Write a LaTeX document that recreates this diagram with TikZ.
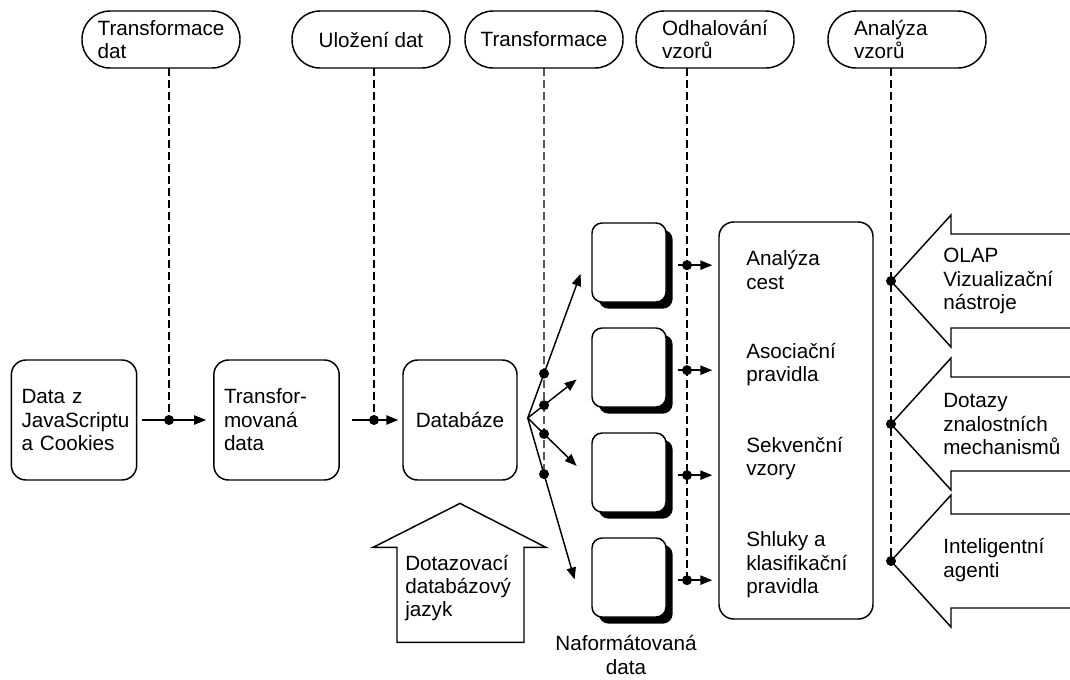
\documentclass[tikz,border=0pt]{standalone}
\usepackage{fontspec}
\setmainfont{Liberation Sans}
\usetikzlibrary{shapes,arrows.meta,positioning,calc,shadows}

\begin{document}
\begin{tikzpicture}[
    x=0.75pt, y=-0.75pt,
    font=\fontsize{15.5}{17.6}\selectfont,
    phase/.style={rectangle, draw, line width=1.1pt, rounded corners=21pt, minimum width=118.5pt, minimum height=42.75pt, align=left},
    proc/.style={rectangle, draw, line width=1.1pt, rounded corners=11pt, minimum width=94pt, minimum height=90pt, text width=78.75pt, align=left},
    fmt/.style={rectangle, draw, line width=1.1pt, rounded corners=7.5pt, minimum width=55.5pt, minimum height=59.25pt, fill=white, drop shadow={shadow xshift=5pt, shadow yshift=-5pt, fill=black, opacity=1}},
    lbl/.style={anchor=west, align=left, inner sep=0pt},
    arrow/.style={-{Triangle[length=9pt,width=7pt]}, line width=1.1pt},
    guide/.style={line width=0.9pt, dash pattern=on 6pt off 3pt},
    hollow/.style={line width=1.1pt}
]
    \useasboundingbox (0,0) rectangle (1070,679);

    % phases on top
    \node[phase] (p1) at (161,39.5) {Transformace\\dat};
    \node[phase] (p2) at (371,39.5) {Uložení dat};
    \node[phase] (p3) at (544,39.5) {Transformace};
    \node[phase] (p4) at (715,39.5) {Odhalování\\vzorů};
    \node[phase, text width=79.5pt] (p5) at (907,39.5) {Analýza\\vzorů};
    \coordinate (v1) at (169,68);
    \coordinate (v2) at (374,68);
    \coordinate (v3) at (544,68);
    \coordinate (v3b) at (544,600);
    \coordinate (v4) at (687,68);
    \coordinate (v5) at (891,68);

    % data flow
    \node[proc] (src) at (74,420) {Data z\\JavaScriptu\\a Cookies};
    \node[proc] (trd) at (276.5,420) {Transfor-\\movaná\\data};
    \node[proc, minimum width=85.5pt, text width=75pt, align=center] (db) at (460,420) {Databáze};
    \coordinate (j1) at (v1 |- src.east);
    \coordinate (j2) at (v2 |- db.west);
    \draw[guide] (v1) -- (j1);
    \draw[guide] (v2) -- (j2);
    \draw[arrow, shorten <=3.75pt, shorten >=5.25pt] (src) -- (trd);
    \draw[arrow, shorten <=9pt, shorten >=3pt] (trd) -- (db);

    % query language
    \coordinate (qt) at ([yshift=-17pt]db.south);
    \draw[hollow] (qt) -- ++(86,44) -- ++(-22,0) -- ++(0,95) -- ++(-127,0) -- ++(0,-95) -- ++(-24,0) -- cycle;
    \node[lbl] (ql) at (405,588) {Dotazovací\\databázový\\jazyk};

    % formatted data
    \node[fmt] (f1) at (629,262.5) {};
    \node[fmt, below=18.4pt of f1] (f2) {};
    \node[fmt, below=18.4pt of f2] (f3) {};
    \node[fmt, below=18.4pt of f3] (f4) {};
    \node[align=center] (fl) at (626,655) {Naformátovaná\\data};

    \coordinate (fan) at ([xshift=7.5pt,yshift=1.5pt]db.east);
    \coordinate (t1) at ([xshift=-8pt,yshift=-8.5pt]f1.west);
    \coordinate (t2) at ([xshift=-11pt,yshift=-9pt]f2.west);
    \coordinate (t3) at ([xshift=-11pt,yshift=5pt]f3.west);
    \coordinate (t4) at ([xshift=-12.5pt,yshift=-1.5pt]f4.west);
    \coordinate (k1) at (intersection of fan--t1 and v3--v3b);
    \coordinate (k2) at (intersection of fan--t2 and v3--v3b);
    \coordinate (k3) at (intersection of fan--t3 and v3--v3b);
    \coordinate (k4) at (intersection of fan--t4 and v3--v3b);
    \draw[guide] (v3) -- (k4);
    \foreach \i in {1,...,4}
        \draw[arrow] (fan) -- (t\i);

    % patterns
    \node[rectangle, draw, line width=1.1pt, rounded corners=11pt, minimum width=115.5pt, minimum height=297.75pt] (pat) at (796,420.5) {};
    \node[lbl] (r1) at (746,270) {Analýza\\cest};
    \node[lbl] (r2) at (746,364.5) {Asociační\\pravidla};
    \node[lbl] (r3) at (746,458.5) {Sekvenční\\vzory};
    \node[lbl] (r4) at (746,565) {Shluky a\\klasifikační\\pravidla};
    \foreach \i in {1,...,4}
        \coordinate (m\i) at ([yshift=-2pt]f\i.east);
    \draw[guide] (v4) -- (v4 |- m4);
    \foreach \i in {1,...,4}
        \draw[arrow, shorten <=8.25pt, shorten >=4.5pt] (m\i) -- (pat.west |- m\i);

    % analysis tools
    \coordinate (qa) at (891,281);
    \coordinate (qb) at (891,424);
    \coordinate (qc) at (891,561);
    \draw[guide] (v5) -- (qc);
    \draw[hollow] ($(qa)+(184,-47)$) -- ++(-124,0) -- ++(0,-19) -- (qa) -- ++(60,66) -- ++(0,-19) -- ++(124,0);
    \draw[hollow] ($(qb)+(184,-47)$) -- ++(-124,0) -- ++(0,-19) -- (qb) -- ++(60,66) -- ++(0,-19) -- ++(124,0);
    \draw[hollow] ($(qc)+(184,-47)$) -- ++(-124,0) -- ++(0,-19) -- (qc) -- ++(60,66) -- ++(0,-19) -- ++(124,0);
    \node[lbl] (oa) at (943,281) {OLAP\\Vizualizační\\nástroje};
    \node[lbl] (ob) at (943,424) {Dotazy\\znalostních\\mechanismů};
    \node[lbl] (oc) at (943,560) {Inteligentní\\agenti};

    % junctions
    \foreach \p in {j1,j2,k1,k2,k3,k4,qa,qb,qc}
        \fill (\p) circle (3.75pt);
    \foreach \i in {1,...,4}
        \fill (v4 |- m\i) circle (3.75pt);
\end{tikzpicture}
\end{document}
